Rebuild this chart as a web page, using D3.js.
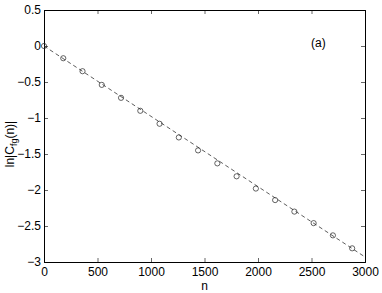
<!DOCTYPE html>
<html>
<head>
<meta charset="utf-8">
<script src="https://cdn.jsdelivr.net/npm/d3@7"></script>
<style>
body { margin: 0; background: #fff; }
text { font-family: "Liberation Sans", Arial, sans-serif; }
</style>
</head>
<body>
<div id="chart"></div>
<script>
// data
var nValues = [0, 180, 360, 540, 720, 900, 1080, 1260, 1440, 1620, 1800, 1980, 2160, 2340, 2520, 2700, 2880];
var lnC = [0, -0.17, -0.35, -0.54, -0.72, -0.90, -1.08, -1.27, -1.45, -1.63, -1.81, -1.98, -2.14, -2.30, -2.46, -2.63, -2.81];
var fitN = [0, 3000];
var fitY = [0, -2.93];
var xTicks = [0, 500, 1000, 1500, 2000, 2500, 3000];
var yTicks = [0.5, 0, -0.5, -1, -1.5, -2, -2.5, -3];

var width = 382, height = 293;
var m = {left: 44, right: 17, top: 10, bottom: 31};

var svg = d3.select("#chart").append("svg")
    .attr("width", width)
    .attr("height", height);

var x = d3.scaleLinear().domain([0, 3000]).range([m.left, width - m.right]);
var y = d3.scaleLinear().domain([-3, 0.5]).range([height - m.bottom, m.top]);

var fmt = function(d) { return String(d).replace("-", "\u2212"); };

// axes, ticks pointing inward
var gx = svg.append("g").attr("transform", "translate(0," + y(-3) + ")")
    .call(d3.axisBottom(x).tickValues(xTicks).tickSize(-4).tickPadding(5).tickFormat(fmt));
var gxt = svg.append("g").attr("transform", "translate(0," + y(0.5) + ")")
    .call(d3.axisTop(x).tickValues(xTicks).tickSize(-4).tickFormat(""));
var gy = svg.append("g").attr("transform", "translate(" + x(0) + ",0)")
    .call(d3.axisLeft(y).tickValues(yTicks).tickSize(-4).tickPadding(3).tickFormat(fmt));
var gyr = svg.append("g").attr("transform", "translate(" + x(3000) + ",0)")
    .call(d3.axisRight(y).tickValues(yTicks).tickSize(-4).tickFormat(""));

svg.selectAll(".domain").attr("stroke", "#000").attr("stroke-width", 1);
svg.selectAll(".tick line").attr("stroke", "#000").attr("stroke-width", 0.6);
svg.selectAll(".tick text").attr("font-size", "12px").attr("fill", "#000")
    .attr("font-family", "Liberation Sans, Arial, sans-serif");

// dashed fit line
var line = d3.line()
    .x(function(d, i) { return x(fitN[i]); })
    .y(function(d) { return y(d); });
svg.append("path")
    .attr("d", line(fitY))
    .attr("fill", "none")
    .attr("stroke", "#333")
    .attr("stroke-width", 0.8)
    .attr("stroke-dasharray", "4,3");

// circle markers
svg.selectAll(".pt")
    .data(lnC)
  .enter().append("circle")
    .attr("class", "pt")
    .attr("cx", function(d, i) { return x(nValues[i]); })
    .attr("cy", function(d) { return y(d); })
    .attr("r", 2.6)
    .attr("fill", "none")
    .attr("stroke", "#222")
    .attr("stroke-width", 0.7);

// labels
svg.append("text")
    .attr("x", x(1500)).attr("y", 290)
    .attr("text-anchor", "middle")
    .attr("font-size", "12px")
    .text("n");

var yl = svg.append("text")
    .attr("transform", "translate(14,144) rotate(-90)")
    .attr("text-anchor", "middle")
    .attr("font-size", "12px");
yl.append("tspan").text("ln|C");
yl.append("tspan").attr("font-size", "9px").attr("dy", 3).text("fg");
yl.append("tspan").attr("dy", -3).text("(n)|");

svg.append("text")
    .attr("x", 311).attr("y", 47)
    .attr("font-size", "12px")
    .text("(a)");
</script>
</body>
</html>
